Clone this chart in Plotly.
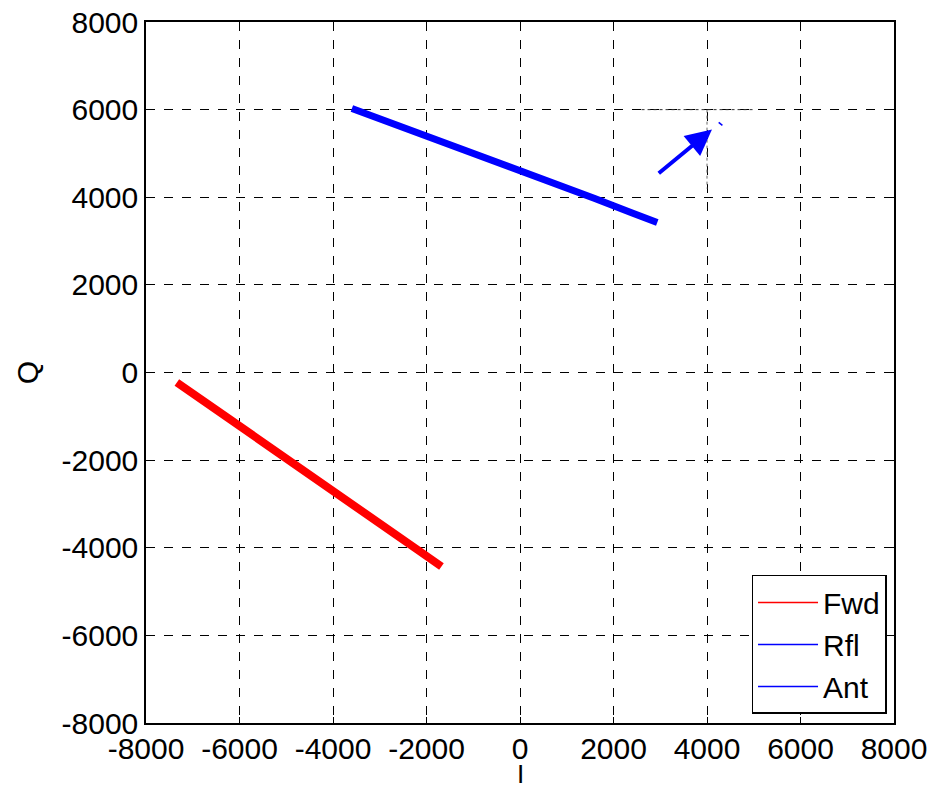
import plotly.graph_objects as go

# Data
fwd_i = [-7340, -6500, -5600, -4700, -3800, -2900, -2200, -1680]
fwd_q = [-228, -860, -1530, -2190, -2860, -3530, -4040, -4430]
rfl_i = [-3596, -2600, -1500, -400, 600, 1600, 2400, 2936]
rfl_q = [6027, 5640, 5200, 4780, 4390, 3970, 3640, 3425]
ant_i = [4250, 4330]
ant_q = [5710, 5640]
arrow_tail = [2936, 4520]
arrow_head = [4106, 5548]
x_ticks = [-8000, -6000, -4000, -2000, 0, 2000, 4000, 6000, 8000]
y_ticks = [-8000, -6000, -4000, -2000, 0, 2000, 4000, 6000, 8000]
series_names = ["Fwd", "Rfl", "Ant"]
series_colors = ["#ff0000", "#0000ff", "#0000ff"]
x_title = "I"
y_title = "Q"

FONT = "Liberation Sans, Arial, sans-serif"
FS = 30

fig = go.Figure()
fig.add_trace(go.Scatter(x=fwd_i, y=fwd_q, mode="lines", showlegend=False,
                         line=dict(color=series_colors[0], width=8)))
fig.add_trace(go.Scatter(x=rfl_i, y=rfl_q, mode="lines", showlegend=False,
                         line=dict(color=series_colors[1], width=7)))
fig.add_trace(go.Scatter(x=ant_i, y=ant_q, mode="lines", showlegend=False,
                         line=dict(color=series_colors[2], width=1.5)))
# legend entries with thin lines
for nm, col in zip(series_names, series_colors):
    fig.add_trace(go.Scatter(x=[None], y=[None], mode="lines", name=nm,
                             line=dict(color=col, width=1.5)))
# thin dotted guide lines near the arrow
fig.add_trace(go.Scatter(x=[2600, 5000], y=[6000, 6000], mode="lines", showlegend=False,
                         line=dict(color="#333333", width=1, dash="dot"), hoverinfo="skip"))
fig.add_trace(go.Scatter(x=[4000, 4000], y=[6000, 4200], mode="lines", showlegend=False,
                         line=dict(color="#666666", width=1, dash="dot"), hoverinfo="skip"))

fig.add_annotation(x=arrow_head[0], y=arrow_head[1], ax=arrow_tail[0], ay=arrow_tail[1],
                   xref="x", yref="y", axref="x", ayref="y", text="",
                   showarrow=True, arrowhead=2, arrowsize=1.3, arrowwidth=4,
                   arrowcolor="#0000ff")

# axis titles as annotations
fig.add_annotation(x=0.5, y=-0.0965, xref="paper", yref="paper", text=x_title,
                   showarrow=False, xanchor="center", yanchor="bottom",
                   font=dict(family=FONT, size=26, color="black"))
fig.add_annotation(x=-0.158, y=0.5, xref="paper", yref="paper", text=y_title,
                   showarrow=False, xanchor="center", yanchor="middle", textangle=-90,
                   font=dict(family=FONT, size=FS, color="black"))

axis_common = dict(showline=True, linecolor="black", linewidth=1.5, mirror="ticks",
                   ticks="inside", ticklen=6, tickcolor="black", automargin=False,
                   showgrid=True, gridcolor="black", gridwidth=1, griddash="dash",
                   zeroline=False, tickfont=dict(family=FONT, size=FS, color="black"))

fig.update_xaxes(range=[-8000, 8000], tickvals=x_ticks, ticktext=[str(v) for v in x_ticks],
                 ticklabelstandoff=-2, **axis_common)
fig.update_yaxes(range=[-8000, 8000], tickvals=y_ticks, ticktext=[str(v) for v in y_ticks],
                 **axis_common)

fig.update_layout(
    width=940, height=791,
    margin=dict(l=146, r=46, t=22, b=68),
    paper_bgcolor="white", plot_bgcolor="white",
    font=dict(family=FONT, size=FS, color="black"),
    legend=dict(x=0.99, y=0.013, xanchor="right", yanchor="bottom",
                bgcolor="white", bordercolor="black", borderwidth=1.5, itemwidth=60,
                font=dict(family=FONT, size=FS, color="black"), tracegroupgap=0),
    showlegend=True,
)

fig.write_html("out.html")
